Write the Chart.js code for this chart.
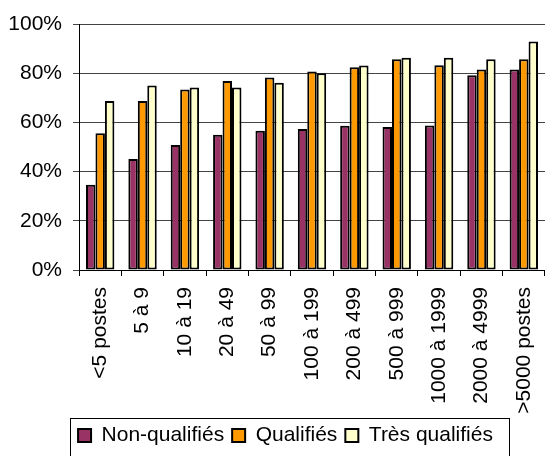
<!DOCTYPE html>
<html>
<head>
<meta charset="utf-8">
<script src="https://cdn.jsdelivr.net/npm/chart.js@4"></script>
<style>
    html, body { margin: 0; padding: 0; background: #fff; }
    #wrap { width: 545px; height: 456px; position: relative; }
</style>
</head>
<body>
<div id="wrap"><canvas id="chart"></canvas></div>
<script>
// Categories (taille d'établissement)
const categories = ['<5 postes', '5 à 9', '10 à 19', '20 à 49', '50 à 99', '100 à 199',
    '200 à 499', '500 à 999', '1000 à 1999', '2000 à 4999', '>5000 postes'];

// Series values (%)
const nonQualifies = [34.7, 45.1, 50.8, 55.0, 56.6, 57.3, 58.6, 58.1, 58.7, 79.2, 81.5];
const qualifies = [55.6, 68.7, 73.4, 76.8, 78.3, 80.7, 82.4, 85.7, 83.2, 81.5, 85.7];
const tresQualifies = [68.7, 75.0, 74.2, 74.2, 76.1, 80.0, 83.1, 86.3, 86.3, 85.7, 92.9];

// Y axis ticks
const yTicks = [0, 20, 40, 60, 80, 100];

const FONT = '"Liberation Sans", Arial, sans-serif';

// Nudge the legend a bit to the right, like the original
const legendShift = {
    id: 'legendShift',
    afterLayout(chart) {
        chart.legend.left += 13;
        chart.legend.right += 13;
    }
};

// Frame around the legend
const legendFrame = {
    id: 'legendFrame',
    afterDraw(chart) {
        const boxes = chart.legend.legendHitBoxes;
        if (!boxes || !boxes.length) return;
        const first = boxes[0];
        const last = boxes[boxes.length - 1];
        const ctx = chart.ctx;
        ctx.save();
        ctx.strokeStyle = '#000';
        ctx.lineWidth = 1;
        const left = Math.round(first.left - 8) + 0.5;
        const right = Math.round(last.left + last.width + 16) + 0.5;
        const top = Math.round(first.top - 7) + 0.5;
        ctx.strokeRect(left, top, right - left, chart.height - top + 5);
        ctx.restore();
    }
};

const ctx = document.getElementById('chart').getContext('2d');
const chart = new Chart(ctx, {
    type: 'bar',
    data: {
        labels: categories,
        datasets: [{
            label: 'Non-qualifiés',
            data: nonQualifies,
            backgroundColor: '#993366',
            borderColor: '#000',
            borderWidth: 2,
            borderSkipped: false
        }, {
            label: 'Qualifiés',
            data: qualifies,
            backgroundColor: '#FF9900',
            borderColor: '#000',
            borderWidth: 2,
            borderSkipped: false
        }, {
            label: 'Très qualifiés',
            data: tresQualifies,
            backgroundColor: '#FFFFCC',
            borderColor: '#000',
            borderWidth: 2,
            borderSkipped: false
        }]
    },
    options: {
        responsive: true,
        maintainAspectRatio: false,
        animation: false,
        datasets: {
            bar: {
                categoryPercentage: 0.67,
                barPercentage: 1.0
            }
        },
        layout: {
            padding: { top: 24, left: 0, right: 0, bottom: 0 }
        },
        plugins: {
            legend: {
                position: 'bottom',
                labels: {
                    font: { family: FONT, size: 21 },
                    color: '#000',
                    boxWidth: 13,
                    boxHeight: 13,
                    padding: 8
                }
            },
            tooltip: { enabled: false }
        },
        scales: {
            x: {
                offset: true,
                grid: {
                    offset: true,
                    drawOnChartArea: false,
                    tickLength: 6,
                    color: '#000'
                },
                border: { color: '#000' },
                ticks: {
                    font: { family: FONT, size: 21 },
                    color: '#000',
                    maxRotation: 90,
                    minRotation: 90,
                    autoSkip: false,
                    padding: 11
                },
                afterFit(scale) {
                    scale.height = 147;
                    scale.paddingLeft = 0;
                    scale.paddingRight = 0;
                }
            },
            y: {
                min: 0,
                max: 100,
                afterBuildTicks(scale) {
                    scale.ticks = yTicks.map(v => ({ value: v }));
                },
                grid: {
                    color: '#444',
                    tickLength: 6
                },
                border: { color: '#000' },
                ticks: {
                    font: { family: FONT, size: 21 },
                    color: '#000',
                    padding: 11,
                    callback: v => v + '%'
                },
                afterFit(scale) {
                    scale.width = 79;
                }
            }
        }
    },
    plugins: [legendShift, legendFrame]
});
</script>
</body>
</html>
